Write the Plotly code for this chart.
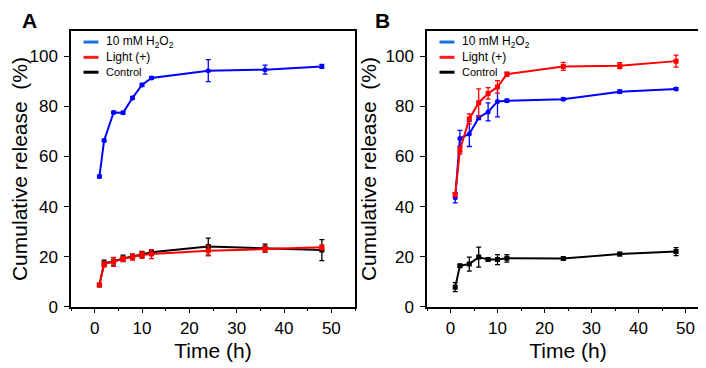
import plotly.graph_objects as go

time_h = [1, 2, 4, 6, 8, 10, 12, 24, 36, 48]

# Panel A
a_h2o2 = [52.0, 66.4, 77.6, 77.5, 83.4, 88.6, 91.4, 94.3, 94.7, 96.0]
a_h2o2_err = [0.5, 0.5, 0.5, 0.5, 0.6, 0.6, 0.5, 4.4, 1.8, 0.8]
a_light = [8.7, 17.0, 17.9, 19.1, 19.8, 20.6, 21.0, 22.3, 23.0, 23.7]
a_light_err = [0.5, 1.0, 1.8, 1.0, 1.2, 1.3, 1.8, 2.0, 1.2, 1.0]
a_ctrl = [8.7, 17.3, 18.1, 19.3, 20.0, 20.9, 21.7, 24.0, 23.4, 22.6]
a_ctrl_err = [0.5, 1.3, 1.5, 1.3, 1.0, 1.2, 1.0, 3.4, 1.6, 4.2]

# Panel B
b_h2o2 = [43.5, 67.2, 69.0, 75.5, 77.8, 82.0, 82.3, 82.9, 85.9, 87.0]
b_h2o2_err = [2.0, 3.2, 5.0, 0.8, 3.6, 6.2, 0.6, 0.5, 0.7, 0.5]
b_light = [44.8, 62.5, 75.0, 81.5, 85.2, 87.8, 92.9, 96.0, 96.3, 98.1]
b_light_err = [0.8, 1.5, 2.0, 5.5, 2.3, 2.5, 0.8, 1.6, 1.2, 2.4]
b_ctrl = [7.8, 16.3, 17.0, 19.8, 18.8, 18.8, 19.3, 19.2, 21.0, 22.0]
b_ctrl_err = [1.8, 0.6, 2.8, 4.0, 0.6, 2.0, 1.5, 0.5, 0.7, 1.6]

legend_labels = ["10 mM H<sub>2</sub>O<sub>2</sub>", "Light (+)", "Control"]
panel_labels = ["A", "B"]

W, H = 706, 368
BLUE, RED, BLACK = "#0000ff", "#ff0000", "#000000"
LEG_COLORS = ["#1a72d8", "#ff1a1a", "#000000"]
FONT = "Liberation Sans, Arial, sans-serif"


def px(x):
    return x / W


def py(y):
    return 1 - y / H


fig = go.Figure()


def add_series(x, y, err, color, symbol, xa, ya):
    fig.add_trace(go.Scatter(
        x=x, y=y, mode="lines+markers",
        line=dict(color=color, width=2),
        marker=dict(color=color, size=5, symbol=symbol),
        error_y=dict(type="data", array=err, visible=True, color=color,
                     thickness=1.3, width=2.5),
        xaxis=xa, yaxis=ya, showlegend=False, hoverinfo="skip"))


add_series(time_h, a_ctrl, a_ctrl_err, BLACK, "square", "x", "y")
add_series(time_h, a_h2o2, a_h2o2_err, BLUE, "circle", "x", "y")
add_series(time_h, a_light, a_light_err, RED, "square", "x", "y")
add_series(time_h, b_ctrl, b_ctrl_err, BLACK, "square", "x2", "y2")
add_series(time_h, b_h2o2, b_h2o2_err, BLUE, "circle", "x2", "y2")
add_series(time_h, b_light, b_light_err, RED, "square", "x2", "y2")

ydom = [py(307), py(24)]
xdomA = [px(63), px(347)]
xdomB = [px(419), px(701)]

axis_common = dict(
    showline=True, linecolor="black", linewidth=1.5, mirror=True,
    ticks="outside", ticklen=5, tickwidth=1.3, tickcolor="black",
    showgrid=False, zeroline=False,
    tickfont=dict(family=FONT, size=17, color="black"),
)
xax = dict(axis_common, range=[-5, 55], tickvals=[0, 10, 20, 30, 40, 50],
           minor=dict(tickvals=[-5, 5, 15, 25, 35, 45, 55], ticklen=3,
                      tickwidth=1.2, tickcolor="black", ticks="outside"),
           title=dict(text="Time (h)", font=dict(family=FONT, size=21, color="black"),
                      standoff=6))
yax = dict(axis_common, range=[0, 110], tickvals=[0, 20, 40, 60, 80, 100],
           ticklabelstandoff=3,
           title=dict(text="Cumulative release  (%)",
                      font=dict(family=FONT, size=21, color="black"), standoff=3))

fig.update_layout(
    width=W, height=H, autosize=False,
    margin=dict(l=0, r=0, t=0, b=0),
    paper_bgcolor="white", plot_bgcolor="white",
    xaxis=dict(xax, domain=xdomA, anchor="y"),
    yaxis=dict(yax, domain=ydom, anchor="x"),
    xaxis2=dict(xax, domain=xdomB, anchor="y2"),
    yaxis2=dict(yax, domain=ydom, anchor="x2"),
)

shapes = []
annotations = []
for left, lab, lx in [(63, panel_labels[0], 21), (419, panel_labels[1], 374)]:
    annotations.append(dict(text="<b>%s</b>" % lab, x=px(lx), y=py(13),
                            xref="paper", yref="paper", showarrow=False,
                            font=dict(family=FONT, size=21, color="black"),
                            xanchor="center", yanchor="middle"))
    rows = [35, 50.7, 66]
    sizes = [12, 12, 11]
    for i, (ry, t) in enumerate(zip(rows, legend_labels)):
        shapes.append(dict(type="line", xref="paper", yref="paper",
                           x0=px(left + 12.5), x1=px(left + 27.5),
                           y0=py(ry), y1=py(ry),
                           line=dict(color=LEG_COLORS[i], width=3)))
        annotations.append(dict(text=t, x=px(left + 33), y=py(ry),
                                xref="paper", yref="paper", showarrow=False,
                                xanchor="left", yanchor="middle",
                                font=dict(family=FONT, size=sizes[i], color="black")))

fig.update_layout(shapes=shapes, annotations=annotations)
fig.write_html("out.html")
